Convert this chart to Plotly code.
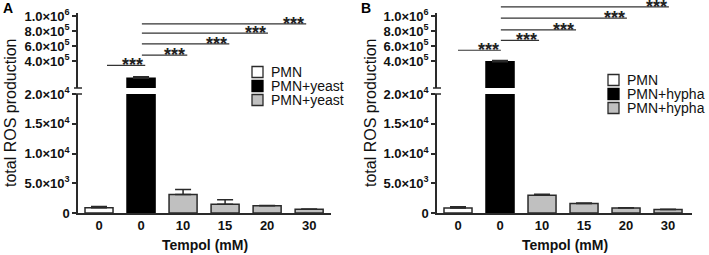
import plotly.graph_objects as go

W, H = 709, 255

# ---------------- data ----------------
tempol_labels = ["0", "0", "10", "15", "20", "30"]
bar_pos = [0, 1, 2, 3, 4, 5]
group_of_bar = [0, 1, 2, 2, 2, 2]
group_fill = ["#ffffff", "#000000", "#c0c0c0"]
group_line = ["#2a2a2a", "#000000", "#2a2a2a"]
legend_A = ["PMN", "PMN+yeast", "PMN+yeast"]
legend_B = ["PMN", "PMN+hypha", "PMN+hypha"]

ros_A = [900, 178000, 3100, 1450, 1220, 620]
err_A = [200, 20000, 850, 770, 60, 60]
ros_B = [830, 395000, 3000, 1600, 830, 580]
err_B = [200, 15000, 150, 100, 60, 60]

sig_A_from = [0.19, 1.02, 1.02, 1.02, 1.02]
sig_A_to = [1.1, 2.1, 3.1, 4.02, 4.93]
sig_A_y = [348e3, 482e3, 631e3, 774e3, 896e3]
sig_B_from = [0.0, 1.02, 1.02, 1.02, 1.02]
sig_B_to = [1.02, 1.93, 2.81, 4.02, 5.02]
sig_B_y = [547e3, 678e3, 817e3, 970e3, 1121e3]
sig_label = "***"

low_tickvals = [0, 5000, 10000, 15000, 20000]
low_ticktext = ["0", "5.0×10<sup>3</sup>", "1.0×10<sup>4</sup>",
                "1.5×10<sup>4</sup>", "2.0×10<sup>4</sup>"]
up_tickvals = [4e5, 6e5, 8e5, 1e6]
up_ticktext = ["4.0×10<sup>5</sup>", "6.0×10<sup>5</sup>",
               "8.0×10<sup>5</sup>", "1.0×10<sup>6</sup>"]

low_range = [0, 20000]
up_range = [48000, 1039000]

# ---------------- layout helpers ----------------
def px(x):
    return x / W

def py(y):
    return 1 - y / H

FONT = "Arial, Liberation Sans, Helvetica, sans-serif"
AX = "#2a2a2a"

low_dom = [py(213), py(94)]
up_dom = [py(88), py(13)]
ov_dom = [py(88), 1.0]
ov_top = up_range[0] + (up_range[1] - up_range[0]) * (ov_dom[1] - ov_dom[0]) / (up_dom[1] - up_dom[0])
ov_range = [up_range[0], ov_top]

panels = [
    dict(x="x", ylow="y", yup="y2", yov="y5", xkey="xaxis", lowkey="yaxis", upkey="yaxis2", ovkey="yaxis5",
         xdom=[px(78), px(331)], xrange=[-0.5, 5.52], vals=ros_A, errs=err_A,
         sf=sig_A_from, st=sig_A_to, sy=sig_A_y, leg=legend_A, legx=252, legy=72,
         letter="A", letx=8, titlex=10, axx=78),
    dict(x="x2", ylow="y3", yup="y4", yov="y6", xkey="xaxis2", lowkey="yaxis3", upkey="yaxis4", ovkey="yaxis6",
         xdom=[px(437), px(692)], xrange=[-0.5, 5.57], vals=ros_B, errs=err_B,
         sf=sig_B_from, st=sig_B_to, sy=sig_B_y, leg=legend_B, legx=608, legy=80,
         letter="B", letx=366, titlex=370, axx=437),
]

fig = go.Figure()
shapes = []
annotations = []
layout = {}

for p in panels:
    fills = [group_fill[g] for g in group_of_bar]
    lines = [group_line[g] for g in group_of_bar]
    for yax in (p["ylow"], p["yup"]):
        fig.add_trace(go.Bar(
            x=bar_pos, y=p["vals"], xaxis=p["x"], yaxis=yax, width=0.667,
            marker=dict(color=fills, line=dict(color=lines, width=1.5)),
            error_y=dict(type="data", array=p["errs"], arrayminus=[0] * len(p["errs"]),
                         symmetric=False, color=AX, thickness=1.5, width=8),
            showlegend=False, hoverinfo="skip"))
    # significance brackets
    for x0, x1, yv in zip(p["sf"], p["st"], p["sy"]):
        fig.add_trace(go.Scatter(x=[x0, x1], y=[yv, yv], xaxis=p["x"], yaxis=p["yov"],
                                 mode="lines", line=dict(color="#333333", width=1.2),
                                 showlegend=False, hoverinfo="skip", cliponaxis=False))
        annotations.append(dict(x=x1, y=yv, xref=p["x"], yref=p["yov"], text=sig_label,
                                showarrow=False, xanchor="right", yanchor="bottom", yshift=-12,
                                font=dict(family=FONT, size=18, color="#222", weight="bold")))

    layout[p["xkey"]] = dict(domain=p["xdom"], range=p["xrange"], anchor=p["ylow"],
                             tickvals=bar_pos, ticktext=tempol_labels, ticks="", automargin=False,
                             showline=True, linecolor=AX, linewidth=1.5, showgrid=False,
                             zeroline=False, tickfont=dict(family=FONT, size=13, color="#111", weight="bold"))
    common_y = dict(anchor=p["x"], showline=True, linecolor=AX, linewidth=1.5, showgrid=False,
                    zeroline=False, ticks="outside", ticklen=4, tickwidth=1.5, tickcolor=AX,
                    automargin=False,
                    tickfont=dict(family=FONT, size=13, color="#111", weight="bold"))
    layout[p["lowkey"]] = dict(domain=low_dom, range=low_range, tickvals=low_tickvals,
                               ticktext=low_ticktext, **common_y)
    layout[p["upkey"]] = dict(domain=up_dom, range=up_range, tickvals=up_tickvals,
                              ticktext=up_ticktext, **common_y)
    layout[p["ovkey"]] = dict(domain=ov_dom, range=ov_range, anchor=p["x"], visible=False,
                              automargin=False)

    # axis-break caps
    for yb in (up_dom[0], low_dom[1]):
        shapes.append(dict(type="line", xref="paper", yref="paper",
                           x0=px(p["axx"] - 4), x1=px(p["axx"] + 4), y0=yb, y1=yb,
                           line=dict(color=AX, width=1.5)))

    # manual legend
    for i, name in enumerate(p["leg"]):
        cy = p["legy"] + 14 * i
        shapes.append(dict(type="rect", xref="paper", yref="paper",
                           x0=px(p["legx"]), x1=px(p["legx"] + 11), y0=py(cy + 5.5), y1=py(cy - 5.5),
                           fillcolor=group_fill[i], line=dict(color=group_line[i], width=1.3)))
        annotations.append(dict(x=px(p["legx"] + 17), y=py(cy), xref="paper", yref="paper",
                                text=name, showarrow=False, xanchor="left", yanchor="middle",
                                font=dict(family=FONT, size=14, color="#111")))

    # titles
    annotations.append(dict(x=0.5, y=py(245), xref=p["x"] + " domain", yref="paper",
                            text="Tempol (mM)", showarrow=False, xanchor="center", yanchor="middle",
                            font=dict(family=FONT, size=14, color="#111", weight="bold")))
    annotations.append(dict(x=px(p["titlex"]), y=py(113), xref="paper", yref="paper",
                            text="total ROS production", showarrow=False, textangle=-90,
                            xanchor="center", yanchor="middle",
                            font=dict(family=FONT, size=16, color="#111")))
    annotations.append(dict(x=px(p["letx"]), y=py(8), xref="paper", yref="paper",
                            text=p["letter"], showarrow=False, xanchor="center", yanchor="middle",
                            font=dict(family=FONT, size=14, color="#000", weight="bold")))

fig.update_layout(width=W, height=H, margin=dict(l=0, r=0, t=0, b=0),
                  paper_bgcolor="white", plot_bgcolor="rgba(0,0,0,0)", showlegend=False,
                  bargap=0.333, shapes=shapes, annotations=annotations, **layout)

fig.write_html("out.html", config={"displayModeBar": False},
               post_script="document.body.style.margin='0px';document.body.style.overflow='hidden';")
